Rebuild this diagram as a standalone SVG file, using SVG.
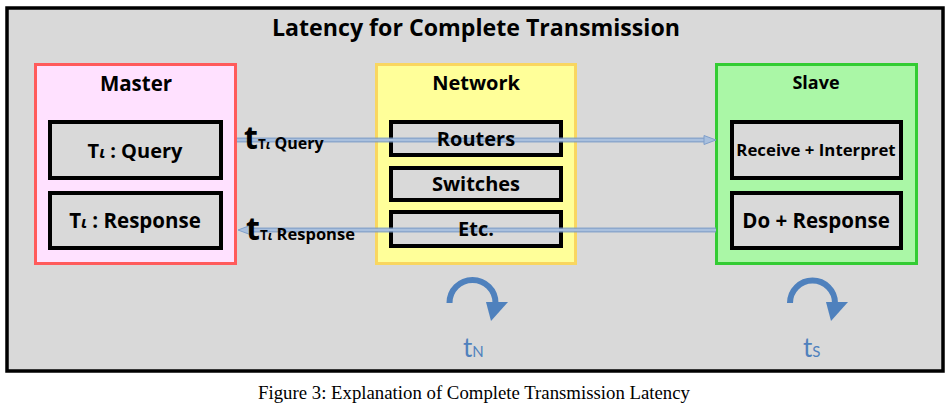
<svg xmlns="http://www.w3.org/2000/svg" width="949" height="407" viewBox="0 0 949 407">
<defs>
<style>
.lbl{font-family:"Open Sans",Lato,"Liberation Sans",sans-serif;font-weight:bold;fill:#000;text-anchor:middle}
.inner{fill:#d9d9d9;stroke:#000;stroke-width:4}
.blue{fill:#4f81bd}
.conn{stroke:#7f9fca;stroke-width:5;fill:none;opacity:0.85}
.conn2{stroke:#a9c0de;stroke-width:2;fill:none}
</style>
</defs>
<rect x="0" y="0" width="949" height="407" fill="#ffffff"/>
<rect x="7" y="8" width="936" height="363" fill="#d9d9d9" stroke="#000" stroke-width="3.5"/>
<text class="lbl" x="476" y="36" font-size="24" textLength="408" lengthAdjust="spacingAndGlyphs">Latency for Complete Transmission</text>

<g id="master">
<rect x="35.5" y="64.5" width="200" height="199" fill="#ffe1ff" stroke="#ff5b5b" stroke-width="3"/>
<text class="lbl" x="136" y="91" font-size="20.5">Master</text>
</g>
<g id="ti-query">
<rect class="inner" x="50" y="122" width="171" height="56"/>
<text class="lbl" x="135" y="158" font-size="20">T<tspan font-style="italic" font-size="16">ι</tspan> : Query</text>
</g>
<g id="ti-response">
<rect class="inner" x="50" y="193" width="171" height="55"/>
<text class="lbl" x="135" y="228" font-size="20.5">T<tspan font-style="italic" font-size="16">ι</tspan> : Response</text>
</g>

<g id="network">
<rect x="376.5" y="64.5" width="199" height="199" fill="#ffff99" stroke="#f9d660" stroke-width="3"/>
<text class="lbl" x="476" y="90" font-size="20">Network</text>
</g>
<g id="routers">
<rect class="inner" x="391" y="122" width="170" height="33"/>
</g>
<g id="switches">
<rect class="inner" x="391" y="168" width="170" height="32"/>
<text class="lbl" x="476" y="191" font-size="20">Switches</text>
</g>
<g id="etc">
<rect class="inner" x="391" y="212" width="170" height="34"/>
</g>

<g id="slave">
<rect x="716.5" y="64.5" width="200" height="199" fill="#aaf7a6" stroke="#33cc33" stroke-width="3"/>
<text class="lbl" x="816" y="89" font-size="18">Slave</text>
</g>
<g id="receive">
<rect class="inner" x="732" y="122" width="169" height="56"/>
<text class="lbl" x="816" y="156" font-size="16.8">Receive + Interpret</text>
</g>
<g id="do-response">
<rect class="inner" x="732" y="193" width="169" height="55"/>
<text class="lbl" x="816" y="228" font-size="20.5">Do + Response</text>
</g>

<g id="connectors">
<line class="conn" x1="237" y1="140" x2="706" y2="140"/>
<line class="conn2" x1="237" y1="140" x2="706" y2="140"/>
<path d="M704,135.5 L716,140 L704,144.5 Z" fill="#a9c0de" stroke="#7f9fca" stroke-width="1"/>
<line class="conn" x1="249" y1="230" x2="716" y2="230"/>
<line class="conn2" x1="249" y1="230" x2="716" y2="230"/>
<path d="M250,225.5 L238,230 L250,234.5 Z" fill="#a9c0de" stroke="#7f9fca" stroke-width="1"/>
</g>
<text class="lbl" x="476" y="146" font-size="20">Routers</text>
<text class="lbl" x="476" y="236" font-size="20">Etc.</text>

<g id="label-query">
<text class="lbl" x="244" y="149" font-size="32" style="text-anchor:start">t<tspan font-size="13.5">T</tspan><tspan font-size="12.5" font-style="italic">ι</tspan><tspan font-size="16"> Query</tspan></text>
</g>
<g id="label-response">
<text class="lbl" x="246" y="240" font-size="32" style="text-anchor:start">t<tspan font-size="13.5">T</tspan><tspan font-size="12.5" font-style="italic">ι</tspan><tspan font-size="16.5"> Response</tspan></text>
</g>

<g id="tn">
<path d="M449.5,303 A23,23 0 0 1 495.5,303" fill="none" stroke="#4f81bd" stroke-width="6"/>
<path d="M486,302 L508,302 L491,321 Z" class="blue"/>
<text x="463" y="357" font-family="Lato,'Open Sans',sans-serif" font-size="26" fill="#4f81bd">t<tspan font-size="15">N</tspan></text>
</g>
<g id="ts">
<path d="M790,303 A22.5,22.5 0 0 1 835,303" fill="none" stroke="#4f81bd" stroke-width="6"/>
<path d="M826,302 L848,302 L831,321 Z" class="blue"/>
<text x="803" y="357" font-family="Lato,'Open Sans',sans-serif" font-size="26" fill="#4f81bd">t<tspan font-size="15">S</tspan></text>
</g>

<text x="474" y="399" font-family="'Liberation Serif','Times New Roman',serif" font-size="18.8" fill="#000" text-anchor="middle">Figure 3: Explanation of Complete Transmission Latency</text>
</svg>
